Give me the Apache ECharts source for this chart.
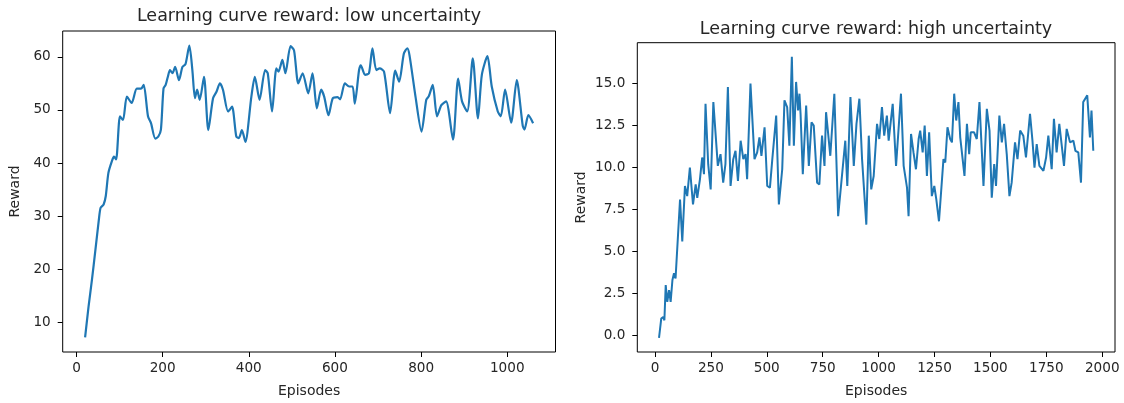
<!DOCTYPE html>
<html>
<head>
<meta charset="utf-8">
<script src="https://cdn.jsdelivr.net/npm/echarts@6/dist/echarts.min.js"></script>
<style>
  html, body { margin: 0; padding: 0; background: #fff; }
  #chart { width: 1124px; height: 403px; }
</style>
</head>
<body>
<div id="chart"></div>
<script>
// Smoothed learning curve, low uncertainty run
const lowEpisodes = [20, 28, 36, 44, 52, 56, 63, 68, 74, 82, 87, 92, 101, 108, 117, 128, 140, 150, 156, 166,
  173, 183, 190, 196, 202, 207, 212, 217, 223, 229, 238, 246, 253, 262, 269, 275, 280, 286, 296, 306,
  317, 325, 333, 340, 352, 361, 371, 377, 384, 392, 406, 414, 425, 438, 444, 454, 464, 469, 478, 485,
  497, 505, 515, 525, 538, 548, 558, 568, 575, 585, 595, 606, 612, 623, 633, 641, 646, 656, 660, 670,
  679, 687, 696, 704, 714, 728, 740, 749, 760, 768, 773, 787, 801, 812, 818, 827, 837, 847, 858, 874,
  886, 895, 907, 920, 932, 941, 954, 964, 978, 985, 995, 1009, 1022, 1036, 1040, 1049, 1060];
const lowReward = [7.2, 13.0, 18.1, 23.7, 29.4, 31.6, 32.2, 33.8, 38.1, 40.3, 41.2, 40.7, 48.8, 48.1, 52.5, 51.3, 54.0, 54.0, 54.7, 48.8,
  47.5, 44.6, 45.0, 46.3, 54.0, 54.7, 56.2, 57.5, 56.9, 58.1, 55.6, 58.1, 58.6, 62.1, 57.5, 52.2, 53.8, 51.9, 56.2, 46.2,
  52.2, 53.4, 55.0, 53.8, 49.7, 50.6, 45.0, 44.7, 46.2, 44.0, 52.5, 56.2, 51.9, 57.5, 56.9, 49.7, 57.8, 57.2, 59.4, 56.9,
  62.0, 61.2, 55.0, 56.9, 53.1, 56.9, 50.3, 53.8, 52.5, 49.0, 52.2, 52.4, 52.0, 55.0, 54.4, 54.4, 51.2, 57.5, 58.4, 56.6,
  56.9, 61.6, 57.5, 57.8, 57.2, 49.4, 57.4, 55.3, 60.6, 61.6, 60.3, 52.5, 45.9, 51.9, 52.6, 54.7, 48.8, 50.9, 51.6, 44.4,
  55.9, 51.6, 49.7, 59.7, 48.4, 56.6, 60.1, 54.4, 49.7, 48.8, 53.8, 47.6, 55.6, 47.0, 46.3, 49.0, 47.5];

// Learning curve, high uncertainty run
const highEpisodes = [18, 28, 37, 42, 48, 55, 63, 70, 78, 85, 92, 112, 122, 134, 144, 156, 170, 182, 189, 201,
  211, 219, 226, 238, 249, 261, 281, 293, 305, 315, 326, 338, 350, 360, 371, 383, 395, 405, 412, 427,
  445, 457, 467, 476, 490, 502, 514, 524, 542, 554, 569, 579, 591, 601, 612, 621, 631, 640, 646, 651,
  661, 676, 688, 700, 710, 725, 735, 747, 758, 765, 784, 802, 819, 851, 860, 874, 889, 901, 914, 926,
  945, 956, 967, 978, 993, 1003, 1015, 1025, 1037, 1045, 1063, 1078, 1100, 1112, 1127, 1134, 1145, 1156, 1167, 1179,
  1186, 1197, 1206, 1216, 1226, 1238, 1249, 1258, 1270, 1290, 1298, 1308, 1320, 1328, 1338, 1347, 1357, 1365, 1384, 1395,
  1405, 1412, 1427, 1439, 1451, 1469, 1484, 1496, 1506, 1517, 1525, 1540, 1551, 1561, 1573, 1585, 1595, 1610, 1621, 1633,
  1647, 1659, 1677, 1688, 1697, 1707, 1719, 1737, 1749, 1759, 1774, 1784, 1796, 1808, 1819, 1829, 1841, 1856, 1871, 1880,
  1893, 1905, 1910, 1915, 1933, 1945, 1952, 1960];
const highReward = [-0.15, 1.0, 1.1, 0.9, 3.0, 2.0, 2.7, 2.0, 3.3, 3.7, 3.4, 8.1, 5.6, 8.9, 8.3, 10.0, 7.8, 9.0, 8.2, 9.3,
  10.6, 9.6, 13.8, 10.2, 8.7, 13.9, 10.1, 10.8, 9.1, 10.2, 14.8, 8.9, 10.5, 11.0, 9.2, 11.6, 10.5, 10.8, 9.3, 15.0,
  10.5, 10.9, 11.8, 10.7, 12.4, 8.9, 8.8, 10.4, 13.1, 7.8, 9.9, 14.0, 13.6, 11.3, 16.6, 11.3, 15.1, 13.4, 14.4, 13.2,
  9.6, 13.7, 10.1, 12.7, 12.5, 9.1, 9.0, 11.9, 10.1, 13.3, 10.7, 14.4, 7.1, 11.6, 8.9, 14.2, 10.1, 12.6, 14.1, 10.5,
  6.6, 11.9, 8.7, 9.5, 12.6, 11.7, 13.6, 11.9, 13.1, 11.6, 13.8, 10.1, 14.4, 10.1, 8.8, 7.1, 12.0, 10.9, 9.9, 11.7,
  12.2, 10.9, 12.5, 9.5, 12.1, 8.3, 8.9, 8.1, 6.8, 10.5, 10.3, 12.4, 11.7, 11.5, 14.4, 12.8, 13.9, 11.8, 9.5, 12.6,
  10.8, 12.1, 12.1, 11.7, 13.9, 8.9, 13.5, 12.2, 8.2, 10.2, 8.9, 13.1, 11.5, 12.6, 10.8, 8.3, 9.1, 11.5, 10.5, 12.2,
  11.9, 10.6, 13.2, 11.6, 10.0, 11.4, 10.1, 9.8, 10.6, 11.9, 9.9, 12.9, 10.9, 12.6, 11.3, 10.1, 12.3, 11.5, 11.6, 11.0,
  10.9, 9.1, 9.1, 13.9, 14.3, 11.8, 13.4, 11.0];

// Tick positions for each panel
const lowXTicks = [0, 200, 400, 600, 800, 1000];
const lowYTicks = [10, 20, 30, 40, 50, 60];
const highXTicks = [0, 250, 500, 750, 1000, 1250, 1500, 1750, 2000];
const highYTicks = [0, 2.5, 5, 7.5, 10, 12.5, 15];

const panelTitles = ['Learning curve reward: low uncertainty', 'Learning curve reward: high uncertainty'];
const xName = 'Episodes';
const yName = 'Reward';

const FONT = 'DejaVu Sans';
const TEXT = '#262626';
const LINE = '#1f77b4';

// Axis limits with a 5% margin around the data
function padded(values) {
  const lo = Math.min(...values), hi = Math.max(...values);
  const m = (hi - lo) * 0.05;
  return [lo - m, hi + m];
}

function zip(xs, ys) { return xs.map((x, i) => [x, ys[i]]); }

function xAxisFor(gridIndex, extent, ticks, fmt) {
  return {
    type: 'value', gridIndex, min: extent[0], max: extent[1],
    name: xName, nameLocation: 'middle', nameGap: 32,
    nameTextStyle: { fontFamily: FONT, fontSize: 14, color: TEXT },
    axisLine: { show: false, onZero: false },
    axisTick: { show: true, inside: false, length: 5, customValues: ticks, lineStyle: { color: '#000', width: 1 } },
    axisLabel: { customValues: ticks, margin: 9, fontFamily: FONT, fontSize: 13.6, color: TEXT, formatter: fmt },
    splitLine: { show: false }
  };
}

function yAxisFor(gridIndex, extent, ticks, fmt, gap) {
  return {
    type: 'value', gridIndex, min: extent[0], max: extent[1],
    name: yName, nameLocation: 'middle', nameGap: gap, nameRotate: 90,
    nameTextStyle: { fontFamily: FONT, fontSize: 14, color: TEXT },
    axisLine: { show: false, onZero: false },
    axisTick: { show: true, inside: false, length: 5, customValues: ticks, lineStyle: { color: '#000', width: 1 } },
    axisLabel: { customValues: ticks, margin: 12, fontFamily: FONT, fontSize: 13.6, color: TEXT, formatter: fmt },
    splitLine: { show: false }
  };
}

const chart = echarts.init(document.getElementById('chart'), null, { renderer: 'canvas' });

chart.setOption({
  animation: false,
  backgroundColor: '#fff',
  title: [
    { text: panelTitles[0], left: 309, top: 7, textAlign: 'center', padding: 0,
      textStyle: { fontFamily: FONT, fontSize: 17.5, fontWeight: 'normal', color: TEXT } },
    { text: panelTitles[1], left: 876, top: 20, textAlign: 'center', padding: 0,
      textStyle: { fontFamily: FONT, fontSize: 17.5, fontWeight: 'normal', color: TEXT } }
  ],
  grid: [
    { left: 62.7, top: 31, width: 492.8, height: 321.7, show: true, borderColor: '#000', borderWidth: 1, backgroundColor: 'transparent' },
    { left: 637.3, top: 42.7, width: 477.7, height: 311.6, show: true, borderColor: '#000', borderWidth: 1, backgroundColor: 'transparent' }
  ],
  xAxis: [
    xAxisFor(0, padded(lowEpisodes), lowXTicks, v => String(v)),
    xAxisFor(1, padded(highEpisodes), highXTicks, v => String(v))
  ],
  yAxis: [
    yAxisFor(0, padded(lowReward), lowYTicks, v => String(v), 40),
    yAxisFor(1, padded(highReward), highYTicks, v => v.toFixed(1), 49)
  ],
  series: [
    { type: 'line', xAxisIndex: 0, yAxisIndex: 0, data: zip(lowEpisodes, lowReward),
      showSymbol: false, smooth: 0.25, lineStyle: { color: LINE, width: 2.2 } },
    { type: 'line', xAxisIndex: 1, yAxisIndex: 1, data: zip(highEpisodes, highReward),
      showSymbol: false, smooth: false, lineStyle: { color: LINE, width: 2 } }
  ]
});
</script>
</body>
</html>
